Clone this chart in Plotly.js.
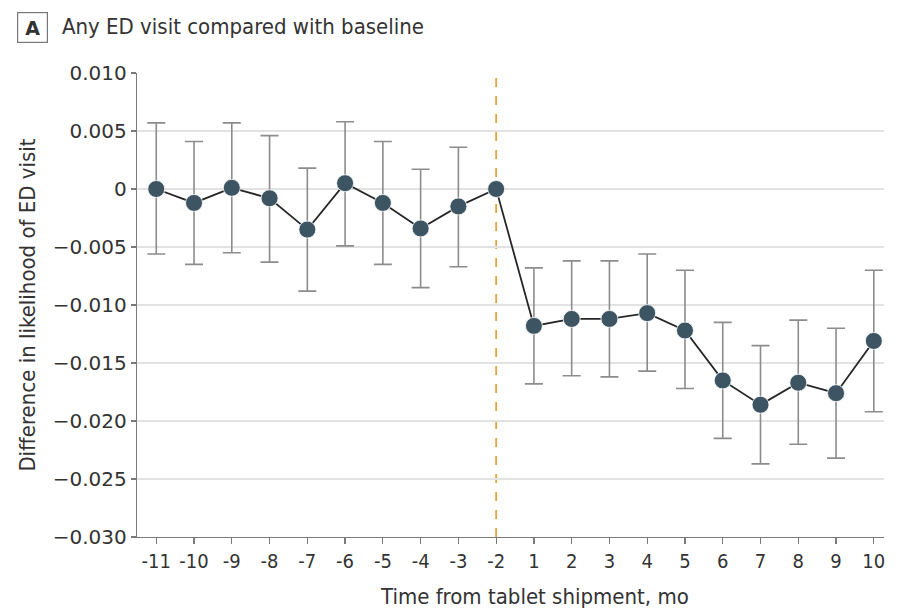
<!DOCTYPE html>
<html>
<head>
<meta charset="utf-8">
<script src="https://cdn.plot.ly/plotly-3.0.1.min.js"></script>
<style>html,body{margin:0;padding:0;background:#fff;}#chart{width:903px;height:609px;}</style>
</head>
<body>
<div id="chart"></div>
<script>
var months = ["-11","-10","-9","-8","-7","-6","-5","-4","-3","-2","1","2","3","4","5","6","7","8","9","10"];
var estimate = [0.0000,-0.0012,0.0001,-0.0008,-0.0035,0.0005,-0.0012,-0.0034,-0.0015,0.0000,-0.0118,-0.0112,-0.0112,-0.0107,-0.0122,-0.0165,-0.0186,-0.0167,-0.0176,-0.0131];
var upperCI = [0.0057,0.0041,0.0057,0.0046,0.0018,0.0058,0.0041,0.0017,0.0036,null,-0.0068,-0.0062,-0.0062,-0.0056,-0.0070,-0.0115,-0.0135,-0.0113,-0.0120,-0.0070];
var lowerCI = [-0.0056,-0.0065,-0.0055,-0.0063,-0.0088,-0.0049,-0.0065,-0.0085,-0.0067,null,-0.0168,-0.0161,-0.0162,-0.0157,-0.0172,-0.0215,-0.0237,-0.0220,-0.0232,-0.0192];
var yTickVals = [0.010,0.005,0,-0.005,-0.010,-0.015,-0.020,-0.025,-0.030];
var yTickText = ["0.010","0.005","0","\u22120.005","\u22120.010","\u22120.015","\u22120.020","\u22120.025","\u22120.030"];
var refMonth = "-2";

var idx = months.map(function(m,i){return i;});
var plus = estimate.map(function(v,i){return upperCI[i]===null?0:upperCI[i]-v;});
var minus = estimate.map(function(v,i){return lowerCI[i]===null?0:v-lowerCI[i];});
var refIdx = months.indexOf(refMonth);

var errTrace = {
  x: idx, y: estimate, mode: 'markers', type: 'scatter',
  marker: {size: 1, color: 'rgba(0,0,0,0)'},
  error_y: {type: 'data', symmetric: false, array: plus, arrayminus: minus,
            color: '#8c8c8c', thickness: 1.6, width: 9},
  hoverinfo: 'skip', showlegend: false
};
var lineTrace = {
  x: idx, y: estimate, mode: 'lines+markers', type: 'scatter',
  line: {color: '#262626', width: 1.8},
  marker: {size: 17, color: '#3d5563', line: {color: '#ffffff', width: 0.8}},
  showlegend: false
};

var plotW = 903 - 137 - 19, plotH = 609 - 73 - 72;
function px(x){return (x-137)/plotW;}
function py(y){return (609-72-y)/plotH;}

var layout = {
  width: 903, height: 609,
  margin: {l: 137, r: 19, t: 73, b: 72},
  paper_bgcolor: '#ffffff', plot_bgcolor: '#ffffff',
  font: {family: 'DejaVu Sans', color: '#333333', size: 17},
  xaxis: {
    range: [-0.51, 19.27], tickmode: 'array', tickvals: idx, ticktext: months,
    showgrid: false, zeroline: false, showline: true, linecolor: '#7a7a7a', linewidth: 1.2,
    ticks: 'outside', ticklen: 6, tickcolor: '#7a7a7a', tickwidth: 1.2,
    tickfont: {family: 'DejaVu Sans Condensed', size: 20, color: '#333'}
  },
  yaxis: {
    range: [-0.030, 0.010], tickmode: 'array', tickvals: yTickVals, ticktext: yTickText,
    showgrid: true, gridcolor: '#e2e2e2', gridwidth: 1.5, zeroline: false,
    showline: true, linecolor: '#7a7a7a', linewidth: 1.2,
    ticks: 'outside', ticklen: 5, tickcolor: '#7a7a7a', tickwidth: 1.2,
    tickfont: {family: 'DejaVu Sans', size: 20, color: '#333'},
    title: {text: 'Difference in likelihood of ED visit', font: {family: 'DejaVu Sans Condensed', size: 22, color: '#333'}, standoff: 11}
  },
  shapes: [{
    type: 'line', xref: 'x', yref: 'paper', x0: refIdx, x1: refIdx, y0: 0, y1: 1,
    line: {color: '#e8a23a', width: 1.8, dash: 'dash'}, layer: 'below'
  }],
  annotations: [
    {text: '<b>A</b>', xref: 'paper', yref: 'paper', x: px(33), y: py(27), xanchor: 'center', yanchor: 'middle',
     showarrow: false, font: {family: 'DejaVu Sans', size: 19, color: '#333'},
     bordercolor: '#777', borderwidth: 1.2, width: 29, height: 29, borderpad: 0},
    {text: 'Any ED visit compared with baseline', xref: 'paper', yref: 'paper', x: px(60), y: py(26),
     xanchor: 'left', yanchor: 'middle', showarrow: false,
     font: {family: 'DejaVu Sans Condensed', size: 22, color: '#333'}},
    {text: 'Time from tablet shipment, mo', xref: 'paper', yref: 'paper', x: px(534), y: py(596),
     xanchor: 'center', yanchor: 'middle', showarrow: false,
     font: {family: 'DejaVu Sans Condensed', size: 22, color: '#333'}}
  ]
};

Plotly.newPlot('chart', [errTrace, lineTrace], layout, {displayModeBar: false, staticPlot: true});
</script>
</body>
</html>
